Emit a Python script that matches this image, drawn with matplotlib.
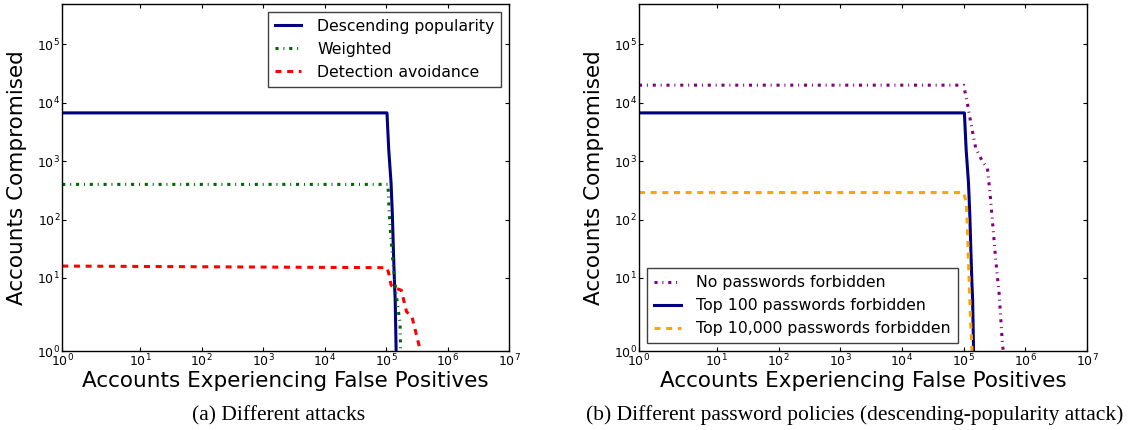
import numpy as np
import matplotlib
matplotlib.use('Agg')
import matplotlib.pyplot as plt
from matplotlib.ticker import FixedLocator, FixedFormatter, NullLocator

# (a) Different attacks
desc_x = [1, 1.03e5, 1.06e5, 1.1e5, 1.2e5, 1.26e5, 1.31e5, 1.36e5, 1.40e5, 1.45e5]
desc_y = [6700, 6700, 3500, 1560, 420, 120, 30, 9, 5, 1]

weighted_x = [1, 1.07e5, 1.1e5, 1.13e5, 1.2e5, 1.28e5, 1.45e5, 1.62e5, 1.68e5, 1.71e5]
weighted_y = [400, 400, 200, 110, 45, 20, 6, 3, 2.5, 1]

avoid_x = [1, 1.03e5, 1.1e5, 1.2e5, 1.35e5, 1.6e5, 1.76e5, 2.14e5, 2.62e5, 3.6e5]
avoid_y = [16, 15, 12, 8, 7.2, 7, 6.8, 3.45, 2.95, 1]

# (b) Different password policies
none_x = [1, 1.0e5, 1.15e5, 1.3e5, 1.57e5, 2.02e5, 2.43e5, 2.68e5, 3.05e5, 3.32e5, 3.76e5, 4.27e5, 4.4e5]
none_y = [2.0e4, 2.0e4, 9.8e3, 4.7e3, 1.67e3, 985, 760, 283, 58, 20, 6.2, 1.2, 1]

top100_x = desc_x
top100_y = desc_y

top10k_x = [1, 1.0e5, 1.11e5, 1.15e5, 1.2e5, 1.25e5, 1.31e5, 1.37e5]
top10k_y = [290, 290, 190, 76, 20, 6.2, 2.2, 1]

decades = [0, 1, 2, 3, 4, 5, 6, 7]
tick_labels = [r'$10^{%d}$' % d for d in decades]


def stretched_log(k):
    """log10 scale whose first decade (1..10) is drawn k times wider."""
    def fwd(v):
        v = np.asarray(v, dtype=float)
        with np.errstate(divide='ignore', invalid='ignore'):
            lv = np.log10(np.where(v > 0, v, np.nan))
        return np.where(lv >= 1, lv, 1 - k * (1 - lv))

    def inv(u):
        u = np.asarray(u, dtype=float)
        return np.where(u >= 1, 10.0 ** u, 10.0 ** (1 - (1 - u) / k))
    return fwd, inv


def style_axes(ax):
    ax.set_xscale('function', functions=stretched_log(1.262))
    ax.set_yscale('function', functions=stretched_log(1.25))
    ax.set_xlim(1, 1e7)
    ax.set_ylim(1, 4.9e5)
    ax.xaxis.set_major_locator(FixedLocator([10.0 ** d for d in decades]))
    ax.xaxis.set_major_formatter(FixedFormatter(tick_labels))
    ax.yaxis.set_major_locator(FixedLocator([10.0 ** d for d in decades[:6]]))
    ax.yaxis.set_major_formatter(FixedFormatter(tick_labels[:6]))
    ax.xaxis.set_minor_locator(NullLocator())
    ax.yaxis.set_minor_locator(NullLocator())
    ax.tick_params(direction='in', top=True, right=True, length=3, width=0.8,
                   labelsize=9, pad=1.5)
    for s in ax.spines.values():
        s.set_linewidth(1.0)
    ax.set_xlabel('Accounts Experiencing False Positives', fontsize=15.5)
    ax.set_ylabel('Accounts Compromised', fontsize=15.5)
    ax.xaxis.set_label_coords(0.5, -0.058)
    ax.yaxis.set_label_coords(-0.079, 0.5)


def main():
    plt.rcParams['font.family'] = ['DejaVu Sans']
    plt.rcParams['lines.scale_dashes'] = False

    fig = plt.figure(figsize=(11.28, 4.3), dpi=100)
    ax1 = fig.add_axes([0.05523, 0.18372, 0.39628, 0.80698])
    ax2 = fig.add_axes([0.56649, 0.18372, 0.39716, 0.80698])

    dot_dash = (0, (2.2, 3.5, 0.7, 3.5))
    dashed = (0, (4.3, 4.1))
    lw = 2.2

    ax1.plot(desc_x, desc_y, color='navy', lw=lw, label='Descending popularity')
    ax1.plot(weighted_x, weighted_y, color='darkgreen', lw=lw, linestyle=dot_dash,
             label='Weighted')
    ax1.plot(avoid_x, avoid_y, color='red', lw=lw, linestyle=dashed,
             label='Detection avoidance')

    ax2.plot(none_x, none_y, color='purple', lw=lw, linestyle=dot_dash,
             label='No passwords forbidden')
    ax2.plot(top100_x, top100_y, color='navy', lw=lw, label='Top 100 passwords forbidden')
    ax2.plot(top10k_x, top10k_y, color='orange', lw=lw, linestyle=dashed,
             label='Top 10,000 passwords forbidden')

    for ax in (ax1, ax2):
        style_axes(ax)

    leg_kw = dict(fontsize=11.3, fancybox=False, framealpha=1, edgecolor='0.25',
                  handlelength=1.7, handletextpad=1.0, borderpad=0.45,
                  labelspacing=0.5, borderaxespad=0.5)
    l1 = ax1.legend(loc='upper right', **leg_kw)
    l2 = ax2.legend(loc='lower left', **leg_kw)
    for leg in (l1, l2):
        leg.get_frame().set_linewidth(1.0)

    fig.text(279 / 1128, 0.023, '(a) Different attacks', ha='center', va='baseline',
             fontsize=15.5, family='Liberation Serif')
    fig.text(855 / 1128, 0.023,
             '(b) Different password policies (descending-popularity attack)',
             ha='center', va='baseline', fontsize=15.5, family='Liberation Serif')

    fig.savefig('out.png', dpi=100)


if __name__ == '__main__':
    main()
